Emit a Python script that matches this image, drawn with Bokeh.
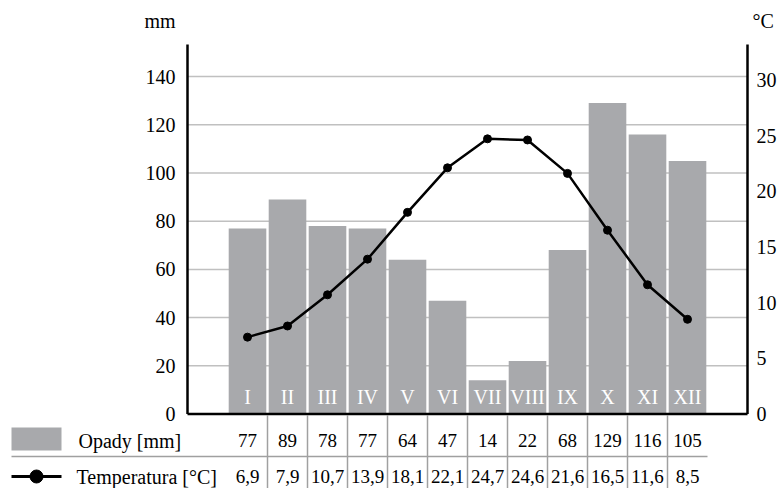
from bokeh.plotting import figure
from bokeh.models import Range1d, ColumnDataSource
from bokeh.embed import file_html
from bokeh.resources import INLINE
from bokeh.core.properties import value

months = ["I", "II", "III", "IV", "V", "VI", "VII", "VIII", "IX", "X", "XI", "XII"]
precip = [77, 89, 78, 77, 64, 47, 14, 22, 68, 129, 116, 105]
temp = [6.9, 7.9, 10.7, 13.9, 18.1, 22.1, 24.7, 24.6, 21.6, 16.5, 11.6, 8.5]
precip_labels = ["77", "89", "78", "77", "64", "47", "14", "22", "68", "129", "116", "105"]
temp_labels = ["6,9", "7,9", "10,7", "13,9", "18,1", "22,1", "24,7", "24,6", "21,6", "16,5", "11,6", "8,5"]
mm_ticks = [0, 20, 40, 60, 80, 100, 120, 140]
c_ticks = [0, 5, 10, 15, 20, 25, 30]
mm_tick_labels = [str(t) for t in mm_ticks]
c_tick_labels = [str(t) for t in c_ticks]
unit_mm = "mm"
unit_c = "°C"
row_names = ["Opady [mm]", "Temperatura [°C]"]

FONT = "'Liberation Serif', serif"
BAR = "#a8a9ac"
GRID = "#c0c0c0"
SEP = "#a0a0a0"

W, H = 779, 488
ORG = 1            # page pixel of canvas origin
PX_PER_CAT = 40.0
X_LEFT, X_RIGHT = -1.5, 12.5          # category-space positions of the two axes
AX_LEFT_PAGE = 188
BASE_PAGE = 414.5
AX_TOP_PAGE = 45
PX_PER_MM = 2.41
PX_PER_C = 11.14
MM_TOP = (BASE_PAGE - AX_TOP_PAGE) / PX_PER_MM

x0 = X_LEFT - (AX_LEFT_PAGE - ORG) / PX_PER_CAT
y_mm = Range1d(-(ORG + H - BASE_PAGE) / PX_PER_MM, (BASE_PAGE - ORG) / PX_PER_MM)
y_c = Range1d(-(ORG + H - BASE_PAGE) / PX_PER_C, (BASE_PAGE - ORG) / PX_PER_C)


def cx(page_x):
    return x0 + (page_x - ORG) / PX_PER_CAT


p = figure(width=W, height=H, x_range=Range1d(x0, x0 + W / PX_PER_CAT), y_range=y_mm,
           x_axis_type=None, y_axis_type=None, toolbar_location=None, output_backend="svg",
           min_border=0)
p.outline_line_color = None
p.xgrid.visible = False
p.ygrid.visible = False
p.extra_y_ranges = {"temp": y_c, "px": Range1d(ORG + H, ORG)}

xs = list(range(len(months)))
src = ColumnDataSource(dict(x=xs, p=precip, t=temp, m=months, pl=precip_labels, tl=temp_labels))

# grid lines
p.segment(x0=X_LEFT, x1=X_RIGHT, y0=mm_ticks[1:], y1=mm_ticks[1:], line_color=GRID, line_width=1.5)

# bars + month labels
p.vbar(x="x", top="p", bottom=0, width=0.94, source=src, fill_color=BAR, line_color=None)
p.text(x="x", y=7, text="m", source=src, text_color="white", text_font=value(FONT),
       text_font_size="20px", text_align="center", text_baseline="middle")

# temperature line
p.line(x="x", y="t", source=src, y_range_name="temp", line_color="black", line_width=2.5)
p.scatter(x="x", y="t", source=src, y_range_name="temp", size=8, fill_color="black", line_color="black")

# axes (lines + tick labels)
p.segment(x0=[X_LEFT, X_RIGHT], x1=[X_LEFT, X_RIGHT], y0=[0, 0], y1=[MM_TOP, MM_TOP],
          line_color="black", line_width=2.5)
p.segment(x0=[X_LEFT], x1=[X_RIGHT], y0=[0], y1=[0], line_color="black", line_width=2.5)
p.text(x=X_LEFT, y=mm_ticks, text=mm_tick_labels, x_offset=-12, text_font=value(FONT),
       text_font_size="20px", text_align="right", text_baseline="middle", text_color="black")
p.text(x=X_RIGHT, y=c_ticks, text=c_tick_labels, x_offset=9, y_range_name="temp",
       text_font=value(FONT), text_font_size="20px", text_align="left", text_baseline="middle",
       text_color="black")
p.text(x=[cx(145), cx(753)], y=[21, 21], text=[unit_mm, unit_c], y_range_name="px",
       text_font=value(FONT), text_font_size="20px", text_align="left", text_baseline="middle",
       text_color="black")

# table
seps = [i + 0.5 for i in range(len(months) - 1)]
p.segment(x0=seps, x1=seps, y0=BASE_PAGE + 1, y1=ORG + H, y_range_name="px", line_color=SEP, line_width=1.5)
p.segment(x0=[cx(12)], x1=[11.5], y0=[457], y1=[457], y_range_name="px", line_color=SEP, line_width=1.5)
p.quad(left=[cx(12)], right=[cx(62)], top=[428], bottom=[451], y_range_name="px",
       fill_color=BAR, line_color=None)
p.segment(x0=[cx(12)], x1=[cx(62)], y0=[477], y1=[477], y_range_name="px", line_color="black", line_width=3)
p.scatter(x=[cx(37)], y=[477], y_range_name="px", size=13, fill_color="black", line_color="black")

p.text(x="x", y=441, text="pl", source=src, y_range_name="px", text_font=value(FONT),
       text_font_size="19px", text_align="center", text_baseline="middle", text_color="black")
p.text(x="x", y=477, text="tl", source=src, y_range_name="px", text_font=value(FONT),
       text_font_size="19px", text_align="center", text_baseline="middle", text_color="black")
p.text(x=[cx(79), cx(77)], y=[441, 477], text=row_names, y_range_name="px", text_font=value(FONT),
       text_font_size="20px", text_align="left", text_baseline="middle", text_color="black")

open("out.html", "w").write(file_html(p, INLINE))
